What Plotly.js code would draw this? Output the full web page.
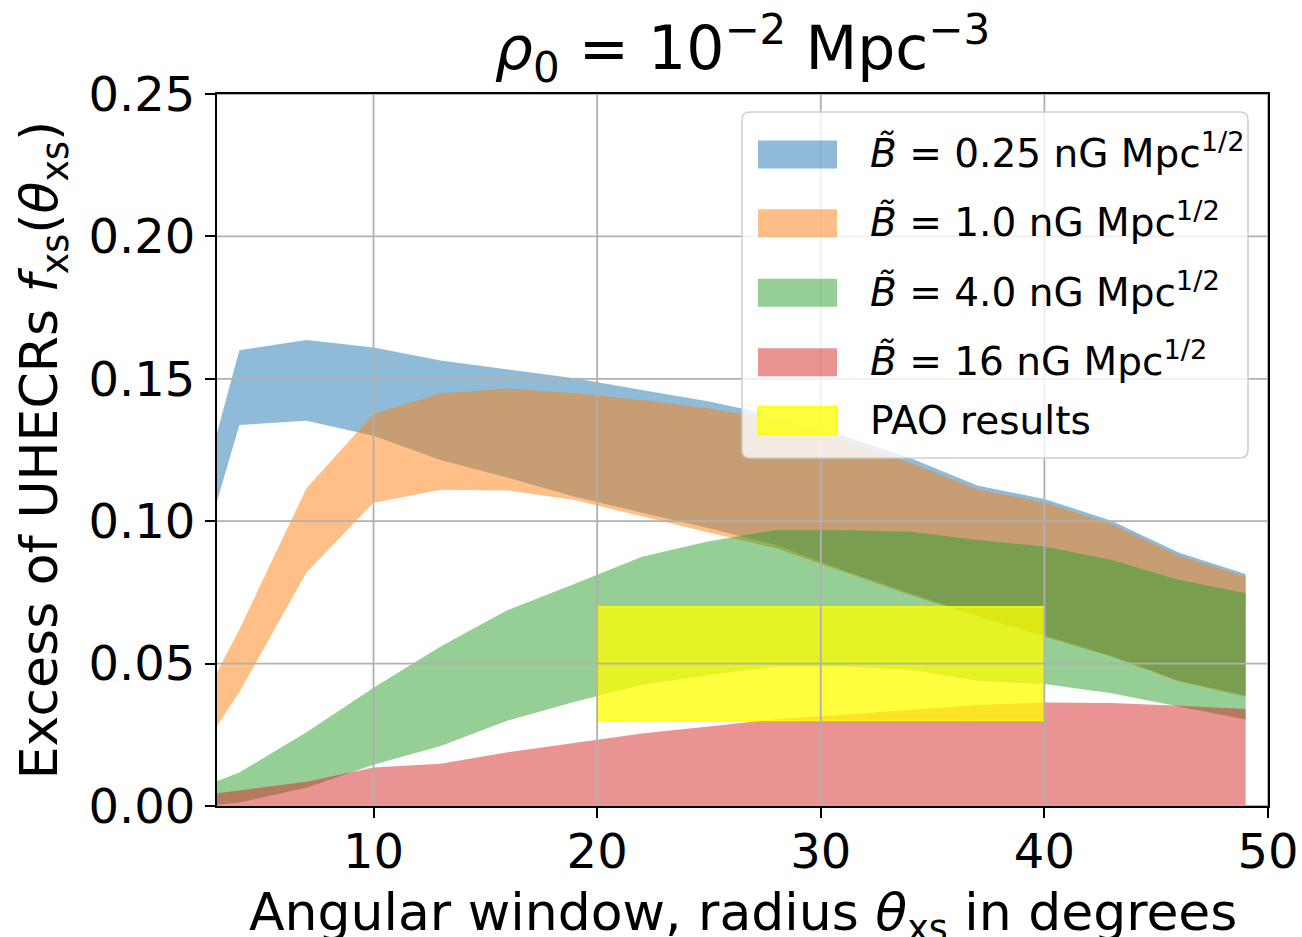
<!DOCTYPE html>
<html>
<head>
<meta charset="utf-8">
<script src="https://cdn.plot.ly/plotly-3.0.1.min.js"></script>
<style>
html, body { margin: 0; padding: 0; background: #ffffff; }
#chart { width: 1302px; height: 937px; }
</style>
</head>
<body>
<div id="chart"></div>
<script>
// ---------------- data ----------------
const theta = [3, 4, 7, 10, 13, 16, 19, 22, 25, 28, 31, 34, 37, 40, 43, 46, 49];

const blueLow   = [0.107, 0.1338, 0.1353, 0.1300, 0.1215, 0.1153, 0.1086, 0.1030, 0.0975, 0.0916, 0.0828, 0.0746, 0.0670, 0.0600, 0.0528, 0.0441, 0.0388];
const blueHigh  = [0.131, 0.1600, 0.1636, 0.1610, 0.1564, 0.1534, 0.1502, 0.1461, 0.1420, 0.1370, 0.1300, 0.1222, 0.1125, 0.1078, 0.1002, 0.0890, 0.0815];

const orangeLow  = [0.0281, 0.0400, 0.0820, 0.1065, 0.1110, 0.1108, 0.1074, 0.1016, 0.0960, 0.0905, 0.0823, 0.0741, 0.0665, 0.0594, 0.0524, 0.0437, 0.0384];
const orangeHigh = [0.0470, 0.0620, 0.1116, 0.1376, 0.1448, 0.1466, 0.1449, 0.1426, 0.1396, 0.1355, 0.1285, 0.1205, 0.1112, 0.1066, 0.0990, 0.0880, 0.0805];

const greenLow  = [0.0004, 0.0012, 0.0064, 0.0145, 0.0211, 0.0300, 0.0366, 0.0425, 0.0460, 0.0490, 0.0490, 0.0478, 0.0440, 0.0428, 0.0396, 0.0349, 0.0304];
const greenHigh = [0.0088, 0.0118, 0.0259, 0.0415, 0.0560, 0.0688, 0.0780, 0.0875, 0.0930, 0.0969, 0.0968, 0.0963, 0.0934, 0.0911, 0.0864, 0.0794, 0.0747];

const redLow  = [0, 0, 0, 0, 0, 0, 0, 0, 0, 0, 0, 0, 0, 0, 0, 0, 0];
const redHigh = [0.0045, 0.0055, 0.0085, 0.0135, 0.0148, 0.0189, 0.0222, 0.0255, 0.0279, 0.0305, 0.0320, 0.0337, 0.0355, 0.0363, 0.0362, 0.0352, 0.0341];

const paoTheta = [20, 40];
const paoRange = [0.03, 0.07];

const xTicks = [10, 20, 30, 40, 50];
const yTicks = [0.00, 0.05, 0.10, 0.15, 0.20, 0.25];

const xTitle = "Angular window, radius <i>θ</i><sub>xs</sub> in degrees";
const yTitle = "Excess of UHECRs <i>f</i><sub>xs</sub>(<i>θ</i><sub>xs</sub>)";
const chartTitle = "<i>ρ</i><sub>0</sub> = 10<sup>−2</sup> Mpc<sup>−3</sup>";

const legendLabels = [
  "<i>B\u0303</i> = 0.25 nG Mpc<sup>1/2</sup>",
  "<i>B\u0303</i> = 1.0 nG Mpc<sup>1/2</sup>",
  "<i>B\u0303</i> = 4.0 nG Mpc<sup>1/2</sup>",
  "<i>B\u0303</i> = 16 nG Mpc<sup>1/2</sup>",
  "PAO results"
];

// ---------------- styling ----------------
const FONT = "DejaVu Sans";
const fills = [
  "rgba(31,119,180,0.5)",
  "rgba(255,127,14,0.5)",
  "rgba(44,160,44,0.5)",
  "rgba(214,39,40,0.5)",
  "rgba(255,255,0,0.75)"
];

function band(low, high, color) {
  return {
    type: "scatter",
    mode: "lines",
    x: theta.concat(theta.slice().reverse()),
    y: high.concat(low.slice().reverse()),
    fill: "toself",
    fillcolor: color,
    line: { width: 0, color: color },
    hoverinfo: "skip",
    showlegend: false
  };
}

const traces = [
  band(blueLow, blueHigh, fills[0]),
  band(orangeLow, orangeHigh, fills[1]),
  band(greenLow, greenHigh, fills[2]),
  band(redLow, redHigh, fills[3]),
  {
    type: "scatter",
    mode: "lines",
    x: [paoTheta[0], paoTheta[1], paoTheta[1], paoTheta[0], paoTheta[0]],
    y: [paoRange[0], paoRange[0], paoRange[1], paoRange[1], paoRange[0]],
    fill: "toself",
    fillcolor: fills[4],
    line: { width: 1.5, color: "rgba(255,255,0,0.85)" },
    hoverinfo: "skip",
    showlegend: false
  }
];

// ---------------- geometry helpers (layout only) ----------------
const M = { l: 217, r: 34, t: 94, b: 131 };
const W = 1302, H = 937;
const PW = W - M.l - M.r, PH = H - M.t - M.b;
const px = v => (v - M.l) / PW;        // figure px -> paper x
const py = v => (M.t + PH - v) / PH;   // figure px -> paper y

const shapes = [];
// grid lines drawn above the filled bands
yTicks.forEach(v => shapes.push({
  type: "line", xref: "paper", yref: "y", x0: 0, x1: 1, y0: v, y1: v,
  line: { color: "#b0b0b0", width: 1.8 }, layer: "above"
}));
xTicks.forEach(v => shapes.push({
  type: "line", xref: "x", yref: "paper", x0: v, x1: v, y0: 0, y1: 1,
  line: { color: "#b0b0b0", width: 1.8 }, layer: "above"
}));

// legend frame (rounded)
function roundRect(x0, y0, x1, y1, r) {
  const rx = r / PW, ry = r / PH;
  const X0 = px(x0), X1 = px(x1), Yt = py(y0), Yb = py(y1);
  return `M ${X0 + rx},${Yt} L ${X1 - rx},${Yt} Q ${X1},${Yt} ${X1},${Yt - ry} ` +
         `L ${X1},${Yb + ry} Q ${X1},${Yb} ${X1 - rx},${Yb} ` +
         `L ${X0 + rx},${Yb} Q ${X0},${Yb} ${X0},${Yb + ry} ` +
         `L ${X0},${Yt - ry} Q ${X0},${Yt} ${X0 + rx},${Yt} Z`;
}
shapes.push({
  type: "path", xref: "paper", yref: "paper",
  path: roundRect(742, 112, 1248, 458, 8),
  fillcolor: "rgba(255,255,255,0.8)",
  line: { color: "rgba(204,204,204,0.9)", width: 1.6 },
  layer: "above"
});

const rowCenters = [154.5, 223.3, 292.8, 362.3, 420.5];
const annotations = [];
legendLabels.forEach((lab, i) => {
  const c = rowCenters[i];
  shapes.push({
    type: "rect", xref: "paper", yref: "paper",
    x0: px(758), x1: px(837), y0: py(c + 14), y1: py(c - 14),
    fillcolor: fills[i],
    line: i === 4 ? { color: "rgba(255,255,0,0.85)", width: 2 } : { width: 0 },
    layer: "above"
  });
  annotations.push({
    xref: "paper", yref: "paper",
    x: px(868), y: py(c + (i < 4 ? -3 : 0)),
    xanchor: "left", yanchor: "middle",
    text: lab, showarrow: false,
    font: { family: FONT, size: 39, color: "#000000" }
  });
});

// x-axis title placed as an annotation so it can sit low, partly cut by the figure edge like the reference
annotations.push({
  xref: "paper", yref: "paper",
  x: 0.5, y: py(880), xanchor: "center", yanchor: "top",
  text: xTitle, showarrow: false,
  font: { family: FONT, size: 52, color: "#000000" }
});

const layout = {
  width: W, height: H,
  margin: M,
  paper_bgcolor: "#ffffff",
  plot_bgcolor: "#ffffff",
  showlegend: false,
  title: {
    text: chartTitle,
    font: { family: FONT, size: 60, color: "#000000" },
    xref: "paper", x: 0.5, xanchor: "center",
    yref: "container", y: 1 - 69 / H, yanchor: "bottom"
  },
  xaxis: {
    range: [3, 50],
    tickvals: xTicks,
    ticktext: xTicks.map(String),
    showgrid: false, zeroline: false,
    showline: true, mirror: true, linecolor: "#000000", linewidth: 2,
    ticks: "outside", ticklen: 10, tickwidth: 2, tickcolor: "#000000",
    ticklabelstandoff: -8,
    tickfont: { family: FONT, size: 48, color: "#000000" },
    layer: "above traces"
  },
  yaxis: {
    range: [0, 0.25],
    tickvals: yTicks,
    ticktext: yTicks.map(v => v.toFixed(2)),
    showgrid: false, zeroline: false,
    showline: true, mirror: true, linecolor: "#000000", linewidth: 2,
    ticks: "outside", ticklen: 10, tickwidth: 2, tickcolor: "#000000",
    tickfont: { family: FONT, size: 48, color: "#000000" },
    layer: "above traces",
    title: {
      text: yTitle,
      font: { family: FONT, size: 52, color: "#000000" },
      standoff: 14
    }
  },
  shapes: shapes,
  annotations: annotations
};

Plotly.newPlot("chart", traces, layout, { staticPlot: true, displayModeBar: false });
</script>
</body>
</html>
